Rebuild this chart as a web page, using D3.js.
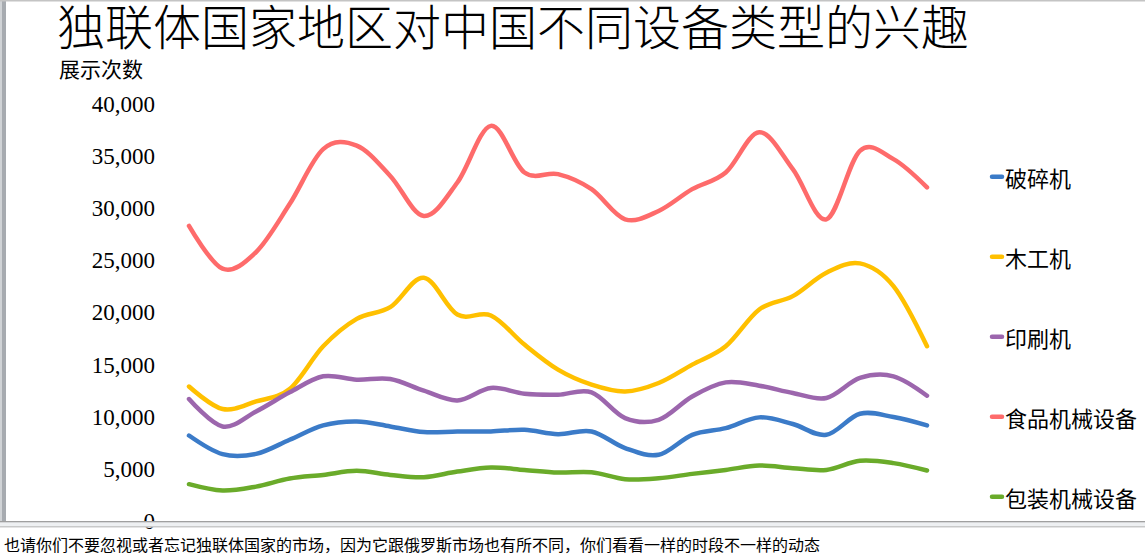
<!DOCTYPE html>
<html>
<head>
<meta charset="utf-8">
<script src="https://cdn.jsdelivr.net/npm/d3@7"></script>
<style>
  html, body { margin: 0; padding: 0; background: #fff; overflow: hidden; }
  svg { display: block; }
</style>
</head>
<body>
<script>
// 23 periods, no labels shown on the slide
var periods = d3.range(1, 24).map(function(d) { return "P" + d; });

var seriesNames = ["破碎机", "木工机", "印刷机", "食品机械设备", "包装机械设备"];
var seriesColors = ["#3b7bc8", "#ffc000", "#9c66ad", "#fe6b6b", "#6aab2a"];

var crusher = [8200, 6410, 6440, 7790, 9170, 9550, 9070, 8530, 8590, 8590, 8750, 8330,
               8590, 6990, 6350, 8270, 8910, 9940, 9300, 8270, 10290, 9970, 9170];
var woodworking = [12900, 10740, 11470, 12660, 16760, 19390, 20510, 23330, 19800, 19710, 16920, 14520,
                   13080, 12430, 13240, 15000, 16760, 20290, 21570, 23820, 24710, 22530, 16760];
var printing = [11700, 9070, 10510, 12340, 13880, 13560, 13620, 12500, 11570, 12760, 12210, 12110,
                12340, 9870, 9710, 11950, 13300, 12980, 12280, 11800, 13720, 13880, 12020];
var food = [28300, 24200, 25800, 30400, 35670, 36000, 33100, 29260, 32470, 37900, 33430, 33270,
            31830, 28940, 29740, 31830, 33430, 37280, 33750, 28940, 35510, 34710, 32000];
var packaging = [3530, 2920, 3300, 4070, 4420, 4810, 4420, 4200, 4740, 5130, 4900, 4650,
                 4680, 4010, 4100, 4520, 4900, 5320, 5070, 4900, 5770, 5550, 4840];

var yTicks = [0, 5000, 10000, 15000, 20000, 25000, 30000, 35000, 40000];

var titleText = "独联体国家地区对中国不同设备类型的兴趣";
var yLabel = "展示次数";
var noteText = "也请你们不要忽视或者忘记独联体国家的市场，因为它跟俄罗斯市场也有所不同，你们看看一样的时段不一样的动态";

var allSeries = [crusher, woodworking, printing, food, packaging];

var W = 1145, H = 560;
var cjk = "'Noto Sans CJK SC', 'Noto Sans', sans-serif";

var svg = d3.select("body").append("svg")
    .attr("width", W)
    .attr("height", H);

svg.append("rect").attr("width", W).attr("height", H).attr("fill", "#fff");

var x = d3.scalePoint().domain(periods).range([189, 927]);
var y = d3.scaleLinear().domain([0, 40000]).range([521, 104]);

// title + axis label
svg.append("text")
    .attr("x", 57).attr("y", 24)
    .attr("dominant-baseline", "central")
    .style("font-family", cjk)
    .style("font-size", "48px")
    .style("font-weight", 300)
    .attr("fill", "#000")
    .text(titleText);

svg.append("text")
    .attr("x", 59).attr("y", 68)
    .attr("dominant-baseline", "central")
    .style("font-family", cjk)
    .style("font-size", "21px")
    .attr("fill", "#000")
    .text(yLabel);

// y axis (labels only)
var yAxis = svg.append("g")
    .attr("transform", "translate(155,0)")
    .call(d3.axisLeft(y).tickValues(yTicks).tickFormat(d3.format(",")).tickSize(0).tickPadding(0));
yAxis.select(".domain").remove();
yAxis.selectAll("text")
    .style("font-family", "'Liberation Serif', serif")
    .style("font-size", "23px")
    .attr("fill", "#000");

// lines
var line = d3.line()
    .x(function(d, i) { return x(periods[i]); })
    .y(function(d) { return y(d); })
    .curve(d3.curveCardinal.tension(0));

svg.selectAll(".series")
    .data(allSeries)
    .enter().append("path")
    .attr("class", "series")
    .attr("d", line)
    .attr("fill", "none")
    .attr("stroke", function(d, i) { return seriesColors[i]; })
    .attr("stroke-width", 4.5)
    .attr("stroke-linejoin", "round")
    .attr("stroke-linecap", "round");

// legend
var legend = svg.selectAll(".legend")
    .data(seriesNames)
    .enter().append("g")
    .attr("class", "legend")
    .attr("transform", function(d, i) { return "translate(990," + (176.7 + i * 80) + ")"; });

legend.append("line")
    .attr("x1", 2).attr("x2", 12)
    .attr("stroke", function(d, i) { return seriesColors[i]; })
    .attr("stroke-width", 4.5)
    .attr("stroke-linecap", "round");

legend.append("text")
    .attr("x", 15)
    .attr("dominant-baseline", "central")
    .style("font-family", cjk)
    .style("font-size", "22px")
    .attr("fill", "#000")
    .text(function(d) { return d; });

// window chrome: left bar, top line, notes pane
svg.append("rect").attr("x", 0).attr("y", 0).attr("width", 2).attr("height", 522).attr("fill", "#d0d3d6");
svg.append("rect").attr("x", 2).attr("y", 0).attr("width", 4).attr("height", 522).attr("fill", "#a7abb0");
svg.append("rect").attr("x", 0).attr("y", 0).attr("width", W).attr("height", 1.5).attr("fill", "#c4c4c4");

svg.append("rect").attr("x", 0).attr("y", 521.5).attr("width", W).attr("height", 6).attr("fill", "#eef0f2");
svg.append("rect").attr("x", 0).attr("y", 521).attr("width", W).attr("height", 1.3).attr("fill", "#a0a0a0");
svg.append("rect").attr("x", 0).attr("y", 526.3).attr("width", W).attr("height", 1).attr("fill", "#b8b8b8");

svg.append("text")
    .attr("x", 4).attr("y", 544)
    .attr("dominant-baseline", "central")
    .style("font-family", cjk)
    .style("font-size", "16px")
    .attr("fill", "#000")
    .text(noteText);
</script>
</body>
</html>
